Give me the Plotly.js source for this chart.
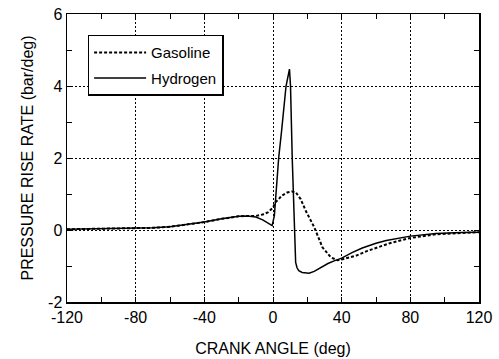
<!DOCTYPE html>
<html>
<head>
<meta charset="utf-8">
<script src="https://cdn.plot.ly/plotly-3.0.1.min.js"></script>
<style>html,body{margin:0;padding:0;background:#fff;}#chart{width:499px;height:359px;}</style>
</head>
<body>
<div id="chart"></div>
<script>
// Crank angle (deg) and pressure rise rate (bar/deg)
const hydrogenAngle = [-120,-100,-80,-70,-60,-50,-40,-30,-20,-15,-10,-6,-3,-0.5,0.8,2.3,3.3,5,7.6,9.6,10.2,11.2,12.4,13.2,14,15,17,21,24,27,32,36,40,46,52,60,66,80,95,110,120];
const hydrogenRate  = [0.02,0.03,0.04,0.06,0.09,0.15,0.22,0.31,0.38,0.39,0.36,0.28,0.18,0.12,0.4,1.39,2.0,2.75,4.0,4.47,4.0,2.0,0.0,-0.9,-1.05,-1.13,-1.18,-1.2,-1.15,-1.06,-0.93,-0.85,-0.78,-0.63,-0.5,-0.37,-0.29,-0.17,-0.1,-0.07,-0.06];
const gasolineAngle = [-120,-100,-80,-70,-60,-50,-40,-30,-20,-15,-10,-6,-3,0,1.4,3.4,5,8.2,11,13.2,16.1,19,22,24,28.8,33.7,37.5,40,48.5,55,68,80,95,110,120];
const gasolineRate  = [0.02,0.03,0.04,0.06,0.09,0.15,0.22,0.31,0.38,0.39,0.39,0.43,0.49,0.62,0.77,0.86,0.95,1.04,1.07,1.05,0.86,0.54,0.26,0.08,-0.48,-0.76,-0.84,-0.82,-0.71,-0.58,-0.37,-0.22,-0.12,-0.08,-0.06];
const seriesNames = ["Gasoline","Hydrogen"];
const xTicks = [-120,-80,-40,0,40,80,120];
const xTickLabels = ["-120","-80","-40","0","40","80","120"];
const xMinorTicks = [-100,-60,-20,20,60,100];
const yTicks = [-2,0,2,4,6];
const yTickLabels = ["-2","0","2","4","6"];
const yMinorTicks = [-1,1,3,5];

const font = "Liberation Sans, Arial, Helvetica, sans-serif";
const traces = [
  {x: gasolineAngle, y: gasolineRate, name: seriesNames[0], mode: "lines",
   line: {color: "#000", width: 2, dash: "3px,2px"}, legendgroup: "g"},
  {x: hydrogenAngle, y: hydrogenRate, name: seriesNames[1], mode: "lines",
   line: {color: "#000", width: 1.5}, legendgroup: "h"}
];
const axisCommon = {
  showline: true, linecolor: "#000", linewidth: 1.5, mirror: "ticks",
  ticks: "inside", ticklen: 5, tickcolor: "#000", tickwidth: 1,
  showgrid: true, gridcolor: "#000", gridwidth: 1, griddash: "2px,2px",
  zeroline: false, tickfont: {family: font, size: 16, color: "#000"}
};
const layout = {
  width: 499, height: 359,
  margin: {l: 67, r: 20, t: 14, b: 57},
  paper_bgcolor: "#fff", plot_bgcolor: "#fff",
  font: {family: font, color: "#000"},
  showlegend: true,
  legend: {x: 0.05, y: 0.928, xanchor: "left", yanchor: "top",
    bgcolor: "#fff", bordercolor: "#000", borderwidth: 1.5,
    font: {family: font, size: 15, color: "#000"},
    traceorder: "grouped", tracegroupgap: 3, itemwidth: 52},
  xaxis: Object.assign({}, axisCommon, {
    range: [-120, 120], tickmode: "array", tickvals: xTicks, ticktext: xTickLabels,
    minor: {tickmode: "array", tickvals: xMinorTicks, ticks: "inside", ticklen: 5, tickcolor: "#000", showgrid: false},
    title: {text: "CRANK ANGLE (deg)", font: {family: font, size: 16, color: "#000"}, standoff: 18}
  }),
  yaxis: Object.assign({}, axisCommon, {
    range: [-2, 6], tickmode: "array", tickvals: yTicks, ticktext: yTickLabels,
    minor: {tickmode: "array", tickvals: yMinorTicks, ticks: "inside", ticklen: 5, tickcolor: "#000", showgrid: false},
    title: {text: "PRESSURE RISE RATE (bar/deg)", font: {family: font, size: 16, color: "#000"}, standoff: 10}
  })
};
Plotly.newPlot("chart", traces, layout, {displayModeBar: false, staticPlot: true});
</script>
</body>
</html>
